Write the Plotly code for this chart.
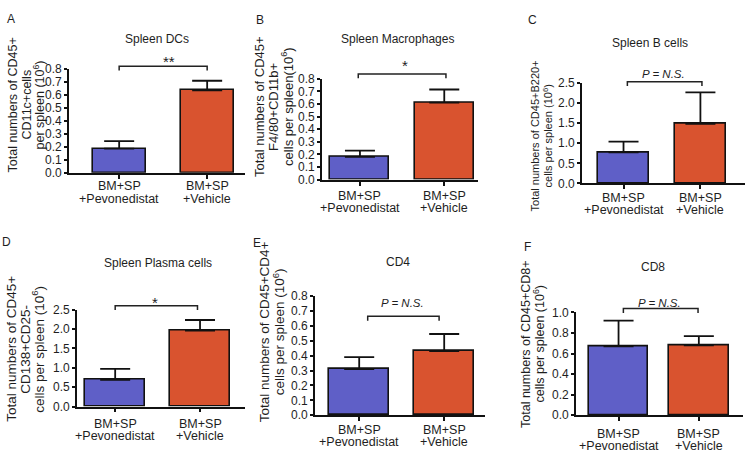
import plotly.graph_objects as go

W, H = 750, 462
FONT = "Liberation Sans, Arial, sans-serif"
TXT = "#1e1e1e"

# ---------------- data ----------------
group_line1 = ["BM+SP", "BM+SP"]
group_line2 = ["+Pevonedistat", "+Vehicle"]
bar_colors = ["#5f5fc7", "#d9532f"]

panel_letters = ["A", "B", "C", "D", "E", "F"]
panel_titles = ["Spleen DCs", "Spleen Macrophages", "Spleen B cells",
                "Spleen Plasma cells", "CD4", "CD8"]
ytitle_lines = [
    ["Total numbers of CD45+", "CD11c+cells", "per spleen (10<sup>6</sup>)"],
    ["Total numbers of CD45+", "F4/80+CD11b+", "cells per spleen(10<sup>6</sup>)"],
    ["Total numbers of CD45+B220+", "cells per spleen (10<sup>6</sup>)"],
    ["Total numbers of CD45+", "CD138+CD25-", "cells per spleen (10<sup>6</sup>)"],
    ["Total numbers of CD45+CD4+", "cells per spleen (10<sup>6</sup>)"],
    ["Total numbers of CD45+CD8+", "cells per spleen (10<sup>6</sup>)"],
]
significance = ["**", "*", "<i>P = N.S.</i>", "*", "<i>P = N.S.</i>", "<i>P = N.S.</i>"]

means_A = [0.187, 0.635]
sem_A = [0.058, 0.075]
means_B = [0.18, 0.61]
sem_B = [0.05, 0.105]
means_C = [0.77, 1.48]
sem_C = [0.27, 0.78]
means_D = [0.69, 1.96]
sem_D = [0.28, 0.27]
means_E = [0.31, 0.43]
sem_E = [0.08, 0.115]
means_F = [0.67, 0.68]
sem_F = [0.25, 0.09]

yticks_A = [0.0, 0.1, 0.2, 0.3, 0.4, 0.5, 0.6, 0.7, 0.8]
yticks_B = [0.0, 0.1, 0.2, 0.3, 0.4, 0.5, 0.6, 0.7, 0.8]
yticks_C = [0.0, 0.5, 1.0, 1.5, 2.0, 2.5]
yticks_D = [0.0, 0.5, 1.0, 1.5, 2.0, 2.5]
yticks_E = [0.0, 0.1, 0.2, 0.3, 0.4, 0.5, 0.6, 0.7, 0.8]
yticks_F = [0.0, 0.2, 0.4, 0.6, 0.8, 1.0]

means = [means_A, means_B, means_C, means_D, means_E, means_F]
sems = [sem_A, sem_B, sem_C, sem_D, sem_E, sem_F]
yticks = [yticks_A, yticks_B, yticks_C, yticks_D, yticks_E, yticks_F]

# ---------------- layout (pixels) ----------------
panels = [
    dict(x0=69, x1=245, yt=64, yb=171, xr=[-0.57, 1.43], bw=0.60, lab=(14, 27),
         br_y=61, br_x=[0.0, 1.0], sig=(169, 56, 15),
         ytl_x=[12.5, 26.5, 38.5], ytl_y=101, ytl_fs=12.5,
         letter=(11, 12), title=(157, 33)),
    dict(x0=322, x1=478, yt=74, yb=178, xr=[-0.45, 1.40], bw=0.70, lab=(17, 29.5),
         br_y=69, br_x=[-0.02, 1.02], sig=(405, 60, 15),
         ytl_x=[260, 274, 287], ytl_y=103, ytl_fs=13,
         letter=(260, 13), title=(397, 33)),
    dict(x0=582, x1=745, yt=78, yb=182, xr=[-0.54, 1.58], bw=0.66, lab=(15, 27.5),
         br_y=77, br_x=[0.05, 1.02], sig=(663, 69, 11.5),
         ytl_x=[534.5, 547.5], ytl_y=133, ytl_fs=11,
         letter=(532, 13), title=(650, 37)),
    dict(x0=77, x1=245, yt=312, yb=412, xr=[-0.45, 1.53], bw=0.70, lab=(18, 30.5),
         br_y=308, br_x=[0.0, 0.97], sig=(155, 305, 15),
         ytl_x=[11.5, 25.5, 38.5], ytl_y=353, ytl_fs=13.5,
         letter=(6, 242), title=(158, 264)),
    dict(x0=315, x1=485, yt=298, yb=421, xr=[-0.52, 1.48], bw=0.71, lab=(15, 27.5),
         br_y=319, br_x=[0.1, 0.94], sig=(402, 305, 11.5),
         ytl_x=[264.5, 278.5], ytl_y=335, ytl_fs=13.5,
         letter=(257, 243), title=(398, 263)),
    dict(x0=576, x1=743, yt=315, yb=421, xr=[-0.53, 1.55], bw=0.74, lab=(19, 31.5),
         br_y=311, br_x=[0.06, 0.99], sig=(659, 305, 11.5),
         ytl_x=[526.5, 539], ytl_y=348, ytl_fs=12.5,
         letter=(527, 247), title=(653, 268)),
]


def px(x):
    return x / W


def py(y):
    return 1 - y / H


fig = go.Figure()
annotations = []
shapes = []

for i, p in enumerate(panels):
    n = "" if i == 0 else str(i + 1)
    xa, ya = "x" + n, "y" + n
    fig.add_trace(go.Bar(
        x=[0, 1], y=means[i], width=p["bw"],
        marker=dict(color=bar_colors, line=dict(color="#111", width=1.6)),
        error_y=dict(type="data", array=sems[i], arrayminus=[0, 0],
                     symmetric=False, color="#111", thickness=1.8, width=15),
        xaxis=xa, yaxis=ya, showlegend=False, hoverinfo="skip",
    ))
    ymax = yticks[i][-1]
    fig.layout["xaxis" + n] = dict(
        domain=[px(p["x0"]), px(p["x1"])], range=p["xr"], anchor=ya,
        tickmode="array", tickvals=[0, 1], showticklabels=False,
        ticks="outside", ticklen=4, tickwidth=1.5, tickcolor="#111",
        showline=True, linecolor="#111", linewidth=1.8,
        showgrid=False, zeroline=False, fixedrange=True,
    )
    fig.layout["yaxis" + n] = dict(
        domain=[py(p["yb"]), py(p["yt"])], range=[0, ymax], anchor=xa,
        tickmode="array", tickvals=yticks[i],
        ticktext=[format(v, ".1f") for v in yticks[i]],
        ticks="outside", ticklen=3, tickwidth=1.5, tickcolor="#111",
        showline=True, linecolor="#111", linewidth=1.8,
        showgrid=False, zeroline=False, fixedrange=True,
        tickfont=dict(family=FONT, size=12, color=TXT),
    )

    def dx(v, p=p):
        return p["x0"] + (v - p["xr"][0]) / (p["xr"][1] - p["xr"][0]) * (p["x1"] - p["x0"])

    # category labels (two lines each)
    for k in range(2):
        for txt, off in ((group_line1[k], p["lab"][0]), (group_line2[k], p["lab"][1])):
            annotations.append(dict(x=k, y=py(p["yb"] + off), xref=xa, yref="paper",
                                    text=txt, showarrow=False,
                                    xanchor="center", yanchor="middle",
                                    font=dict(family=FONT, size=12.5, color=TXT)))

    # bracket
    bl, br = dx(p["br_x"][0]), dx(p["br_x"][1])
    by = p["br_y"]
    path = (f"M {px(bl)},{py(by + 4.5)} L {px(bl)},{py(by)} "
            f"L {px(br)},{py(by)} L {px(br)},{py(by + 4.5)}")
    shapes.append(dict(type="path", xref="paper", yref="paper", path=path,
                       line=dict(color="#222", width=1.5)))
    # significance
    sx, sy, sfs = p["sig"]
    annotations.append(dict(x=px(sx), y=py(sy), xref="paper", yref="paper",
                            text=significance[i], showarrow=False,
                            xanchor="center", yanchor="middle",
                            font=dict(family=FONT, size=sfs, color=TXT)))
    # title
    tx, ty = p["title"]
    annotations.append(dict(x=px(tx), y=py(ty), xref="paper", yref="paper",
                            text=panel_titles[i], showarrow=False,
                            xanchor="center", yanchor="middle",
                            font=dict(family=FONT, size=12, color=TXT)))
    # panel letter
    lx, ly = p["letter"]
    annotations.append(dict(x=px(lx), y=py(ly), xref="paper", yref="paper",
                            text=panel_letters[i], showarrow=False,
                            xanchor="center", yanchor="middle",
                            font=dict(family=FONT, size=12, color=TXT)))
    # y title lines
    for line, lxp in zip(ytitle_lines[i], p["ytl_x"]):
        annotations.append(dict(x=px(lxp), y=py(p["ytl_y"]), xref="paper", yref="paper",
                                text=line, showarrow=False, textangle=-90,
                                xanchor="center", yanchor="middle",
                                font=dict(family=FONT, size=p["ytl_fs"], color=TXT)))

fig.update_layout(
    width=W, height=H,
    margin=dict(l=0, r=0, t=0, b=0),
    paper_bgcolor="white", plot_bgcolor="white",
    annotations=annotations, shapes=shapes,
    bargap=0, showlegend=False,
)

fig.write_html("out.html", config={"displayModeBar": False},
               post_script="document.body.style.margin='0';document.body.style.overflow='hidden';")
